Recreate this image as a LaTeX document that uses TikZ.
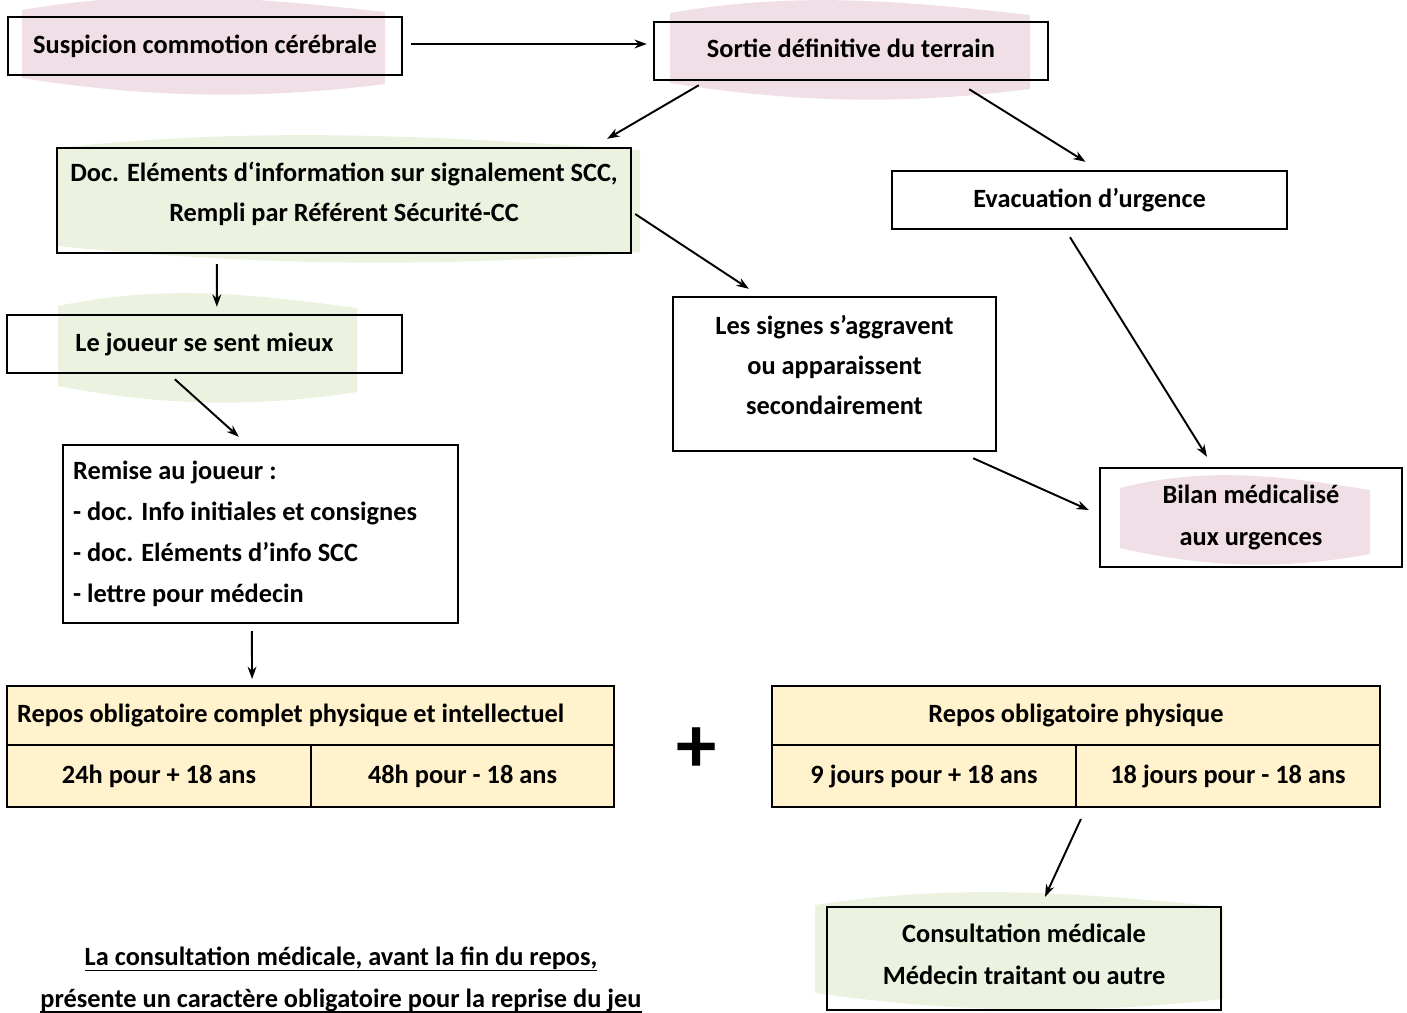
\documentclass[tikz,border=0pt]{standalone}
\usepackage{fontspec}
\setmainfont{Carlito}
\usepackage{xcolor}
\usepackage{tikz}
\usetikzlibrary{arrows.meta,calc}

\definecolor{pinkwave}{HTML}{F0DFE6}
\definecolor{greenwave}{HTML}{EBF2DF}
\definecolor{cream}{HTML}{FFF2CC}

% wavy highlight behind a box: x1, y1, x2, y2, colour
\newcommand{\wavebg}[5]{%
  \fill[#5] (#1,{#2+8}) .. controls ({#1+0.35*(#3-#1)},{#2-14}) and ({#1+0.65*(#3-#1)},{#2-4}) .. (#3,{#2+10})
    -- (#3,{#4-6}) .. controls ({#1+0.65*(#3-#1)},{#4+10}) and ({#1+0.35*(#3-#1)},{#4+8}) .. (#1,{#4-12}) -- cycle;}
% underline close to the baseline
\newcommand{\ulnote}[1]{\setbox0\hbox{#1}\rlap{\rule[-3.3pt]{\wd0}{1.1pt}}\box0}

\begin{document}
\begin{tikzpicture}[x=0.02cm,y=-0.02cm,>={Stealth[length=7pt,width=5pt]},
  font=\fontsize{15}{22.7}\selectfont\bfseries]
  \tikzstyle{box}=[draw,line width=1.4pt,inner sep=0pt,align=center]
  \tikzstyle{cell}=[draw,fill=cream,line width=1.1pt,inner sep=0pt,minimum height=1.18cm,align=center]
  \tikzstyle{arr}=[->,line width=1.1pt]

  \useasboundingbox (0,0) rectangle (1407,1012);

  % highlights
  \wavebg{22}{2}{385}{90}{pinkwave}
  \wavebg{670}{5}{1030}{95}{pinkwave}
  \wavebg{57}{140}{640}{258}{greenwave}
  \wavebg{58}{298}{357}{398}{greenwave}
  \wavebg{1120}{480}{1370}{560}{pinkwave}
  \wavebg{815}{897}{1223}{1005}{greenwave}

  % boxes
  \node[box,minimum width=7.88cm,minimum height=1.16cm] (sus) at (205,46) {Suspicion commotion cérébrale};
  \node[box,minimum width=7.88cm,minimum height=1.16cm,text depth=3.4pt] (sortie) at (851,51) {Sortie définitive du terrain};
  \node[box,minimum width=11.48cm,minimum height=2.1cm,text depth=10pt] (doc) at (344,200.5)
    {Doc. Eléments d‘information sur signalement SCC,\\Rempli par Référent Sécurité-CC};
  \node[box,minimum width=7.9cm,minimum height=1.16cm] (evac) at (1089.5,200) {Evacuation d’urgence};
  \node[box,minimum width=7.9cm,minimum height=1.16cm] (mieux) at (204.5,344) {Le joueur se sent mieux};
  \node[box,minimum width=6.46cm,minimum height=3.08cm,text depth=10pt] (signes) at (834.5,374)
    {Les signes s’aggravent\\ou apparaissent\\secondairement};
  \node[box,minimum width=7.9cm,minimum height=3.56cm,inner xsep=0.2cm,text width=7.5cm,align=flush left,
    font=\fontsize{15}{23.4}\selectfont\bfseries] (remise) at (260.5,534)
    {Remise au joueur :\\- doc. Info initiales et consignes\\- doc. Eléments d’info SCC\\- lettre pour médecin};
  \node[box,minimum width=6.04cm,minimum height=1.98cm,font=\fontsize{15}{23.8}\selectfont\bfseries] (bilan) at (1251,517.5)
    {Bilan médicalisé\\aux urgences};

  % rest tables
  \node[cell,minimum width=12.14cm,inner xsep=0.2cm,text width=11.74cm,align=flush left] (reposA) at (310.5,715.5)
    {Repos obligatoire complet physique et intellectuel};
  \node[cell,minimum width=6.08cm,minimum height=1.24cm] (ageA1) at (159,776) {24h pour + 18 ans};
  \node[cell,minimum width=6.06cm,minimum height=1.24cm] (ageA2) at (462.5,776) {48h pour - 18 ans};
  \node[font=\fontsize{46}{46}\selectfont\bfseries] (plus) at (697,750) {+};
  \node[cell,minimum width=12.16cm] (reposB) at (1076,715.5) {Repos obligatoire physique};
  \node[cell,minimum width=6.08cm,minimum height=1.24cm] (ageB1) at (924,776) {9 jours pour + 18 ans};
  \node[cell,minimum width=6.08cm,minimum height=1.24cm] (ageB2) at (1228,776) {18 jours pour - 18 ans};

  \node[box,minimum width=7.88cm,minimum height=2.06cm,text depth=4.5pt,font=\fontsize{15}{23.8}\selectfont\bfseries] (consult) at (1024,958.5)
    {Consultation médicale\\Médecin traitant ou autre};

  \node[align=center,font=\fontsize{15}{23.6}\selectfont\bfseries] (note) at (341,980)
    {\ulnote{La consultation médicale, avant la fin du repos,}\\
     \ulnote{présente un caractère obligatoire pour la reprise du jeu}};

  % arrows
  \draw[arr] ($(sus.east)+(8,-2)$) -- ($(sortie.west)+(-6,-7)$);
  \draw[arr] ($(sortie.south west)+(46,4)$) -- ($(doc.north east)+(-25,-8)$);
  \draw[arr] ($(sortie.south east)+(-80,8)$) -- ($(evac.north)+(-4,-8)$);
  \draw[arr] ($(doc.south west)+(161,10)$) -- ($(mieux.north west)+(211,-7)$);
  \draw[arr] ($(doc.east)+(3,13.5)$) -- ($(signes.north west)+(77,-7)$);
  \draw[arr] ($(evac.south)+(-19.5,7)$) -- ($(bilan.north)+(-44,-10)$);
  \draw[arr] ($(mieux.south west)+(169,5)$) -- ($(remise.north west)+(177,-7)$);
  \draw[arr] ($(signes.south east)+(-24,6)$) -- ($(bilan.west)+(-10,-7.5)$);
  \draw[arr] ($(remise.south west)+(190,7)$) -- ($(reposA.north west)+(246,-6)$);
  \draw[arr] ($(ageB1.south east)+(4,11)$) -- ($(consult.north)+(21,-9)$);
\end{tikzpicture}
\end{document}
